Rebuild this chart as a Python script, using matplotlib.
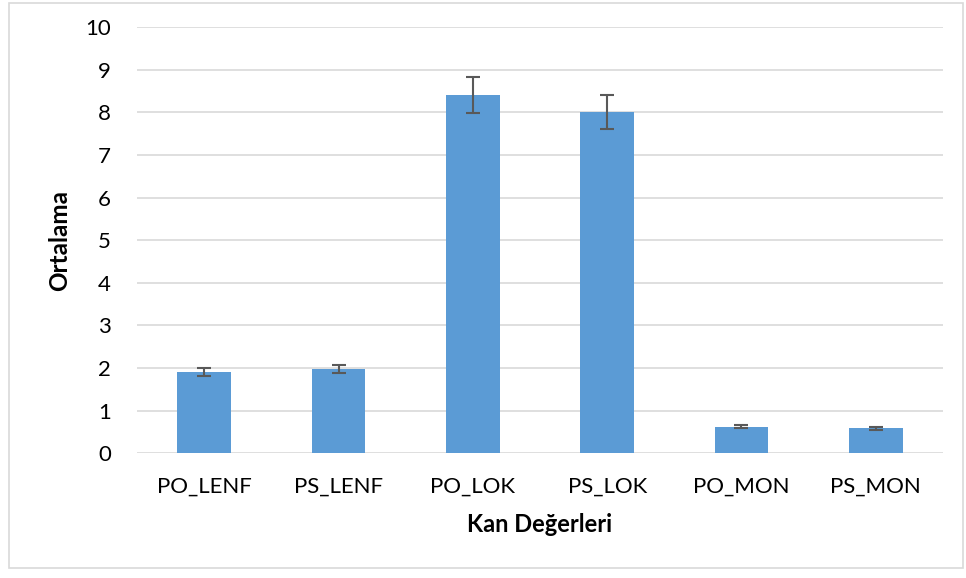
import numpy as np
import matplotlib.pyplot as plt
from matplotlib.patches import Rectangle

# data
categories = ["PO_LENF", "PS_LENF", "PO_LOK", "PS_LOK", "PO_MON", "PS_MON"]
means = [1.90, 1.97, 8.40, 8.00, 0.62, 0.58]
errors = [0.09, 0.09, 0.42, 0.40, 0.03, 0.03]
yticks = list(range(0, 11))

plt.rcParams['font.family'] = ['Lato', 'DejaVu Sans']

fig = plt.figure(figsize=(9.66, 5.78), dpi=100)
ax = fig.add_axes([0.142, 0.216, 0.834, 0.737])

x = np.arange(len(categories))
ax.bar(x, means, width=0.4, color="#5b9bd5", zorder=2,
       yerr=errors, error_kw=dict(ecolor="#595959", elinewidth=1.5,
                                  capsize=5, capthick=1.5))

ax.set_ylim(0, 10)
ax.set_xlim(-0.5, len(categories) - 0.5)
ax.set_yticks(yticks)
ax.set_xticks(x)
ax.set_xticklabels(categories, fontsize=16)
ax.tick_params(axis='y', labelsize=16, length=0, pad=19)
ax.tick_params(axis='x', length=0, pad=17)
ax.grid(axis='y', color="#d9d9d9", linewidth=1.2, zorder=0)
for s in ax.spines.values():
    s.set_visible(False)

ax.set_ylabel("Ortalama", fontsize=17.5, fontweight='bold', labelpad=10)
ax.set_xlabel("Kan Değerleri", fontsize=17, fontweight='bold', labelpad=12)

# light frame around the whole chart
fig.patches.append(Rectangle((0.009, 0.017), 0.988, 0.978, transform=fig.transFigure,
                             fill=False, edgecolor="#d9d9d9", linewidth=1.2))

fig.savefig("out.png", dpi=100)
